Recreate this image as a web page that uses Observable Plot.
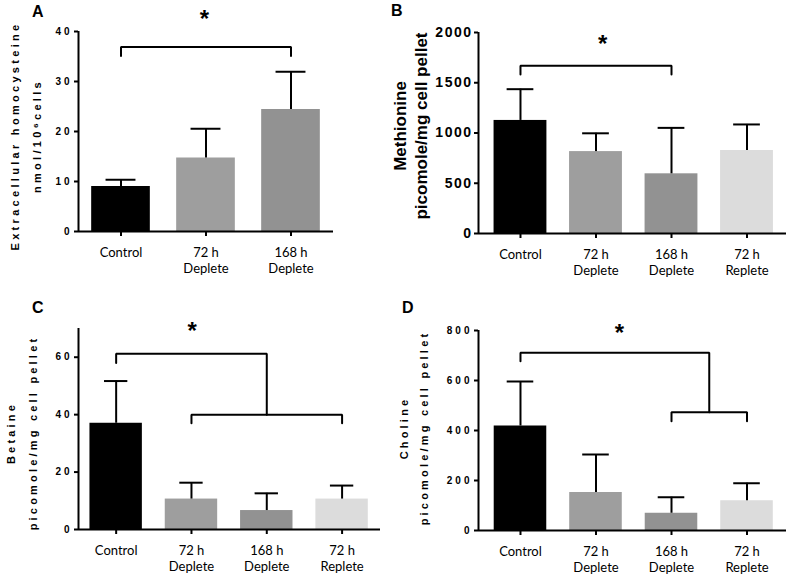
<!DOCTYPE html>
<html><head><meta charset="utf-8">
<script src="https://cdn.jsdelivr.net/npm/d3@7"></script>
<script src="https://cdn.jsdelivr.net/npm/@observablehq/plot@0.6"></script>
<style>
body{margin:0;background:#fff}
#fig{position:relative;width:787px;height:577px;overflow:hidden;background:#fff}
.panel{position:absolute}
.letter{position:absolute;font:bold 16px/1 "Liberation Sans",Arial,sans-serif;color:#000}
.ytitle{position:absolute;transform:translate(-50%,-50%) rotate(-90deg);white-space:pre;text-align:center;color:#000;font-weight:bold;font-family:"Liberation Sans",Arial,sans-serif}
</style></head><body>
<div id="fig"></div>
<script>
// ---- data ----
const groups = ["Control", "72 h\nDeplete", "168 h\nDeplete", "72 h\nReplete"];
const barColors = ["#000000", "#9e9e9e", "#929292", "#dcdcdc"];

// A: extracellular homocysteine (nmol/10^6 cells)
const homocysteineMean = [9.0, 14.7, 24.4];
const homocysteineSD = [1.35, 5.85, 7.55];
const homocysteineTicks = [0, 10, 20, 30, 40];

// B: methionine (picomole/mg cell pellet)
const methionineMean = [1125, 815, 594, 826];
const methionineSD = [311, 182, 457, 259];
const methionineTicks = [0, 500, 1000, 1500, 2000];

// C: betaine (picomole/mg cell pellet)
const betaineMean = [37.0, 10.6, 6.6, 10.6];
const betaineSD = [14.7, 5.7, 6.0, 4.7];
const betaineTicks = [0, 20, 40, 60];

// D: choline (picomole/mg cell pellet)
const cholineMean = [418, 152, 69, 119];
const cholineSD = [178, 152, 64, 70];
const cholineTicks = [0, 200, 400, 600, 800];

// significance brackets (group index, value)
const bracketsA = [[{g: 0, v: 35.1}, {g: 0, v: 36.9}, {g: 2, v: 36.9}, {g: 2, v: 35.1}]];
const bracketsB = [[{g: 0, v: 1582}, {g: 0, v: 1668}, {g: 2, v: 1668}, {g: 2, v: 1582}]];
const bracketsC = [
  [{g: 0, v: 58}, {g: 0, v: 61.2}, {g: 2, v: 61.2}, {g: 2, v: 40}],
  [{g: 1, v: 37}, {g: 1, v: 40}, {g: 3, v: 40}, {g: 3, v: 37}]
];
const bracketsD = [
  [{g: 0, v: 677}, {g: 0, v: 711}, {g: 2.5, v: 711}, {g: 2.5, v: 473}],
  [{g: 2, v: 437}, {g: 2, v: 473}, {g: 3, v: 473}, {g: 3, v: 437}]
];
const starA = {g: 0.98, v: 42.4};
const starB = {g: 1.09, v: 1880};
const starC = {g: 1.01, v: 68.9};
const starD = {g: 1.31, v: 790};

const labelA = "Extracellular homocysteine\nnmol/10\u2076cells";
const labelB = "Methionine\npicomole/mg cell pellet";
const labelC = "Betaine\npicomole/mg cell pellet";
const labelD = "Choline\npicomole/mg cell pellet";

// ---- drawing ----
const fig = document.getElementById("fig");
function panel(o) {
  const n = o.mean.length;
  const data = o.mean.map((m, i) => ({i, mean: m, top: m + o.sd[i], color: barColors[i]}));
  const svg = Plot.plot({
    width: o.width, height: o.height,
    marginLeft: o.ml, marginRight: o.mr, marginTop: o.mt, marginBottom: o.mb,
    style: {fontFamily: "'Liberation Sans', Arial, sans-serif", background: "transparent"},
    x: {type: "linear", domain: o.xDomain, axis: null},
    y: {domain: o.yDomain, axis: null},
    marks: [
      Plot.rectY(data, {x1: d => d.i - o.hw, x2: d => d.i + o.hw, y: "mean", fill: "color"}),
      Plot.ruleX(data, {x: "i", y1: "mean", y2: "top", stroke: "#000", strokeWidth: 2}),
      Plot.ruleY(data, {y: "top", x1: d => d.i - o.cap, x2: d => d.i + o.cap, stroke: "#000", strokeWidth: 2}),
      Plot.ruleY([0], {stroke: "#000", strokeWidth: 2}),
      Plot.ruleX([o.xDomain[0]], {stroke: "#000", strokeWidth: 2}),
      Plot.axisY({ticks: o.yTicks, tickSize: 4, tickPadding: 2, strokeWidth: 2,
        fontSize: o.tickFont, fontWeight: "bold", label: null, tickFormat: d => String(d)}),
      Plot.axisX({ticks: d3.range(n), tickFormat: i => groups[i], tickSize: 5, tickPadding: 9,
        strokeWidth: 2, fontSize: 13, fontFamily: "Lato", lineHeight: 1.23, label: null}),
      ...o.brackets.map(b => Plot.line(b, {x: "g", y: "v", stroke: "#000", strokeWidth: 2, strokeLinejoin: "miter"})),
      Plot.text([o.star], {x: "g", y: "v", text: () => "*", fontSize: 24, fontWeight: "bold"})
    ]
  });
  svg.querySelectorAll('g[aria-label="y-axis tick label"]').forEach(g => g.style.letterSpacing = o.tickLS + "px");
  const div = document.createElement("div");
  div.className = "panel";
  div.style.left = o.left + "px";
  div.style.top = o.top + "px";
  div.appendChild(svg);
  fig.appendChild(div);

  const t = document.createElement("div");
  t.className = "ytitle";
  t.textContent = o.label;
  t.style.left = o.tx + "px";
  t.style.top = o.ty + "px";
  t.style.fontSize = o.labelFont + "px";
  t.style.lineHeight = o.lh + "px";
  t.style.letterSpacing = o.labelLS + "px";
  fig.appendChild(t);

  const L = document.createElement("div");
  L.className = "letter";
  L.textContent = o.letter;
  L.style.left = o.lx + "px";
  L.style.top = o.ly + "px";
  fig.appendChild(L);
}

panel({letter: "A", lx: 32, ly: 4, left: 0, top: 0, width: 390, height: 290, ml: 78, mr: 57, mt: 31, mb: 59,
  xDomain: [-0.5, 2.5], hw: 0.345, cap: 0.176, yDomain: [0, 40], yTicks: homocysteineTicks,
  mean: homocysteineMean, sd: homocysteineSD, brackets: bracketsA, star: starA,
  tickFont: 10, tickLS: 3, label: labelA, labelFont: 11, labelLS: 3.3, lh: 22, tx: 26, ty: 136});

panel({letter: "B", lx: 391, ly: 3, left: 390, top: 0, width: 397, height: 290, ml: 88, mr: 1, mt: 32, mb: 57,
  xDomain: [-0.556, 3.523], hw: 0.35, cap: 0.177, yDomain: [0, 2000], yTicks: methionineTicks,
  mean: methionineMean, sd: methionineSD, brackets: bracketsB, star: starB,
  tickFont: 14, tickLS: 1.5, label: labelB, labelFont: 17, labelLS: 0, lh: 21, tx: 411, ty: 126});

panel({letter: "C", lx: 32, ly: 300, left: 0, top: 290, width: 390, height: 287, ml: 78, mr: 10, mt: 38, mb: 48,
  xDomain: [-0.5, 3.51], hw: 0.348, cap: 0.155, yDomain: [0, 70], yTicks: betaineTicks,
  mean: betaineMean, sd: betaineSD, brackets: bracketsC, star: starC,
  tickFont: 10, tickLS: 3, label: labelC, labelFont: 11, labelLS: 3.2, lh: 22, tx: 22, ty: 433});

panel({letter: "D", lx: 402, ly: 300, left: 390, top: 290, width: 397, height: 287, ml: 88, mr: 1, mt: 40, mb: 47,
  xDomain: [-0.556, 3.523], hw: 0.348, cap: 0.176, yDomain: [0, 800], yTicks: cholineTicks,
  mean: cholineMean, sd: cholineSD, brackets: bracketsD, star: starD,
  tickFont: 10, tickLS: 3, label: labelD, labelFont: 11, labelLS: 3.2, lh: 20, tx: 414, ty: 428});
</script>
</body></html>
